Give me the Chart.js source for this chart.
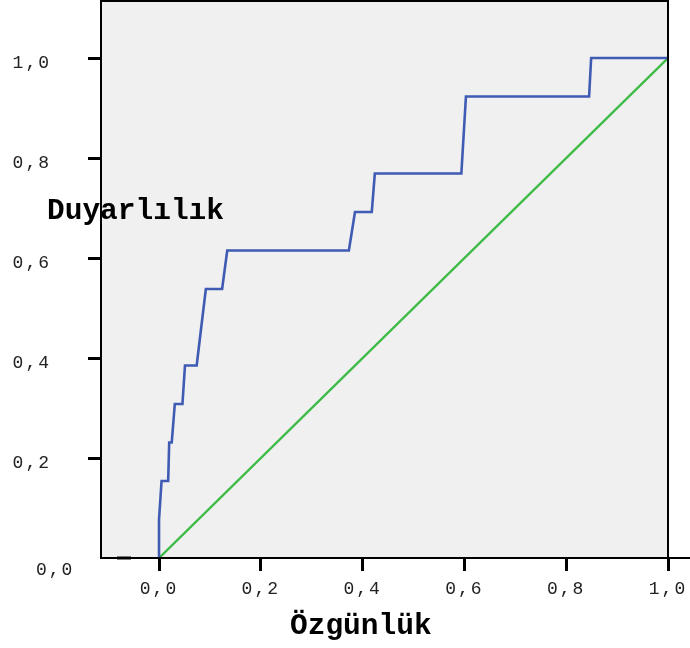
<!DOCTYPE html>
<html>
<head>
<meta charset="utf-8">
<script src="https://cdn.jsdelivr.net/npm/chart.js@4/dist/chart.umd.min.js"></script>
<style>
  body { margin: 0; background: #fff; }
</style>
</head>
<body>
<canvas id="myChart" width="690" height="648"></canvas>
<script>
// ROC egrisi - ozgunluk (1 - spesifite) / duyarlilik
const rocX = [0, 0, 0.005, 0.018, 0.020, 0.025, 0.031, 0.046, 0.051, 0.074, 0.083, 0.092, 0.124, 0.134,
    0.373, 0.385, 0.418, 0.424, 0.594, 0.603, 0.845, 0.849, 1.0];
const rocY = [0, 0.077, 0.154, 0.154, 0.231, 0.231, 0.308, 0.308, 0.385, 0.385, 0.462, 0.538, 0.538, 0.615,
    0.615, 0.692, 0.692, 0.769, 0.769, 0.923, 0.923, 1.0, 1.0];
const refX = [0, 1];
const refY = [0, 1];
const xTicks = [0, 0.2, 0.4, 0.6, 0.8, 1.0];
const yTicks = [0, 0.2, 0.4, 0.6, 0.8, 1.0];

function fmt(v) {
    return v.toFixed(1).replace(".", ",");
}

const frame = {
    id: "frame",
    beforeDraw(chart) {
        const ctx = chart.ctx;
        const a = chart.chartArea;
        ctx.letterSpacing = "2px";
        ctx.save();
        ctx.fillStyle = "#f0f0f0";
        ctx.fillRect(a.left, a.top, a.right - a.left, a.bottom - a.top);
        ctx.restore();
    },
    afterDraw(chart) {
        const ctx = chart.ctx;
        const a = chart.chartArea;
        const ys = chart.scales.y;
        ctx.save();
        // eksen basliklari (cerceve ustune binmeden once)
        ctx.letterSpacing = "0px";
        ctx.fillStyle = "#000";
        ctx.font = "bold 29.5px 'Liberation Mono', monospace";
        ctx.textAlign = "left";
        ctx.textBaseline = "alphabetic";
        ctx.fillText("Duyarlılık", 47, 219);
        ctx.fillText("Özgünlük", 290, 634);

        ctx.strokeStyle = "#000";
        ctx.lineWidth = 2;
        ctx.strokeRect(a.left, a.top, a.right - a.left, a.bottom - a.top);
        // alt cizgi sağa uzanir
        ctx.beginPath();
        ctx.moveTo(a.right, a.bottom);
        ctx.lineTo(chart.width, a.bottom);
        ctx.stroke();
        // 0,0 etiketi ve kisa tik
        const y0 = ys.getPixelForValue(0);
        ctx.lineWidth = 3;
        ctx.beginPath();
        ctx.moveTo(a.left + 16, y0);
        ctx.lineTo(a.left + 30, y0);
        ctx.stroke();
        ctx.letterSpacing = "2px";
        ctx.fillStyle = "#222";
        ctx.font = "18px 'Liberation Mono', monospace";
        ctx.textBaseline = "middle";
        ctx.fillText(fmt(0), 36, y0 + 12);
        ctx.restore();
    }
};

const ctx = document.getElementById("myChart");
new Chart(ctx, {
    type: "line",
    data: {
        datasets: [
            {
                label: "ROC",
                data: rocX.map((x, i) => ({ x: x, y: rocY[i] })),
                borderColor: "#3f5bb3",
                borderWidth: 2.6,
                pointRadius: 0,
                tension: 0,
                fill: false,
            },
            {
                label: "Referans",
                data: refX.map((x, i) => ({ x: x, y: refY[i] })),
                borderColor: "#3dbb46",
                borderWidth: 2.4,
                pointRadius: 0,
                tension: 0,
                fill: false,
            },
        ],
    },
    options: {
        responsive: false,
        devicePixelRatio: 1,
        animation: false,
        layout: { padding: { top: 1, right: 22, left: 0, bottom: 0 } },
        plugins: {
            legend: { display: false },
            tooltip: { enabled: false },
        },
        scales: {
            x: {
                type: "linear",
                min: -0.114,
                max: 1.0,
                afterBuildTicks: (s) => { s.ticks = xTicks.map((v) => ({ value: v })); },
                afterFit: (s) => {
                    s.height = 90;
                    s.paddingLeft = 0;
                    s.paddingRight = 0;
                },
                border: { display: false },
                grid: {
                    drawOnChartArea: false,
                    drawTicks: true,
                    tickLength: 13,
                    lineWidth: 3,
                    color: "#000",
                },
                ticks: {
                    autoSkip: false,
                    maxRotation: 0,
                    padding: 7,
                    color: "#222",
                    font: { family: "'Liberation Mono', monospace", size: 18 },
                    callback: (v) => fmt(v),
                },
            },
            y: {
                type: "linear",
                min: 0,
                max: 1.114,
                afterBuildTicks: (s) => { s.ticks = yTicks.map((v) => ({ value: v })); },
                afterFit: (s) => {
                    s.width = 101;
                    s.paddingTop = 0;
                    s.paddingBottom = 0;
                },
                border: { display: false },
                grid: {
                    drawOnChartArea: false,
                    drawTicks: true,
                    tickLength: 13,
                    lineWidth: 3,
                    color: (c) => (c.tick && c.tick.value === 0 ? "rgba(0,0,0,0)" : "#000"),
                },
                ticks: {
                    autoSkip: false,
                    padding: 37,
                    labelOffset: 5,
                    color: "#222",
                    font: { family: "'Liberation Mono', monospace", size: 18 },
                    callback: (v) => (v === 0 ? "" : fmt(v)),
                },
            },
        },
    },
    plugins: [frame],
});
</script>
</body>
</html>
